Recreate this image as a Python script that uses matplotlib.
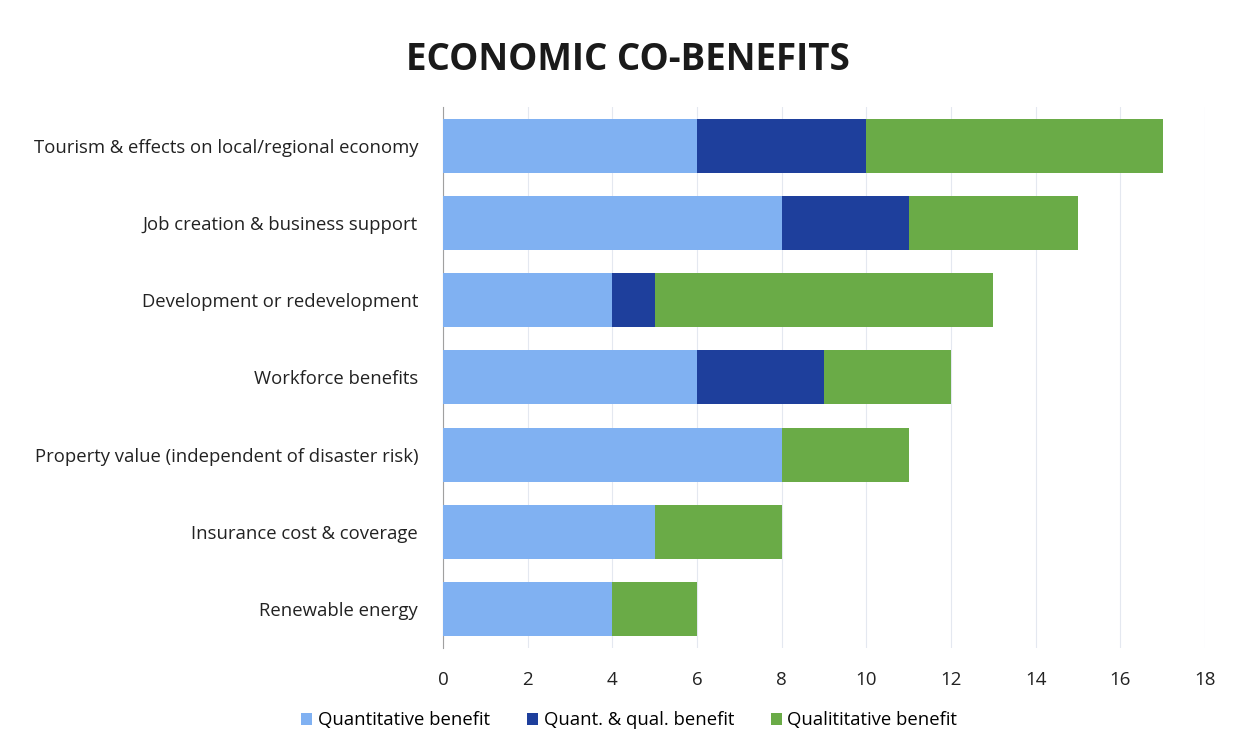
import matplotlib
matplotlib.use("Agg")
import matplotlib.pyplot as plt
import numpy as np

plt.rcParams['font.family'] = ['Open Sans', 'DejaVu Sans']

categories = [
    "Tourism & effects on local/regional economy",
    "Job creation & business support",
    "Development or redevelopment",
    "Workforce benefits",
    "Property value (independent of disaster risk)",
    "Insurance cost & coverage",
    "Renewable energy",
]
quantitative = [6, 8, 4, 6, 8, 5, 4]
quant_qual = [4, 3, 1, 3, 0, 0, 0]
qualitative = [7, 4, 8, 3, 3, 3, 2]
series_names = ["Quantitative benefit", "Quant. & qual. benefit", "Qualititative benefit"]
colors = ["#80b1f2", "#1e3f9c", "#6aab47"]

fig = plt.figure(figsize=(12.34, 7.48), dpi=100)
ax = fig.add_axes([0.359, 0.134, 0.6175, 0.723])

y = np.arange(len(categories))
left = np.zeros(len(categories))
for vals, name, c in zip([quantitative, quant_qual, qualitative], series_names, colors):
    ax.barh(y, vals, left=left, height=0.7, color=c, label=name, zorder=3)
    left += np.array(vals)

ax.set_ylim(len(categories) - 0.5, -0.5)
ax.set_xlim(0, 18)
ax.set_xticks(range(0, 19, 2))
ax.set_yticks(y)
ax.set_yticklabels(categories)
ax.tick_params(axis='y', length=0, pad=18, labelsize=13.3, colors="#222222")
ax.tick_params(axis='x', length=0, pad=17, labelsize=13.5, colors="#222222")
ax.grid(axis='x', color="#e4e8f0", lw=0.8, zorder=0)
for s in ["top", "right", "bottom"]:
    ax.spines[s].set_visible(False)
ax.spines["left"].set_color("#a0a0a0")

fig.text(0.509, 0.92, "ECONOMIC CO-BENEFITS", ha="center", va="center",
         fontsize=26.5, fontweight="bold", color="#1a1a1a")

fig.legend(loc="center", bbox_to_anchor=(0.51, 0.037), ncol=3, frameon=False,
           fontsize=13.3, handlelength=0.6, handleheight=0.6, handletextpad=0.3,
           columnspacing=2.0)

fig.savefig("out.png", dpi=100)
